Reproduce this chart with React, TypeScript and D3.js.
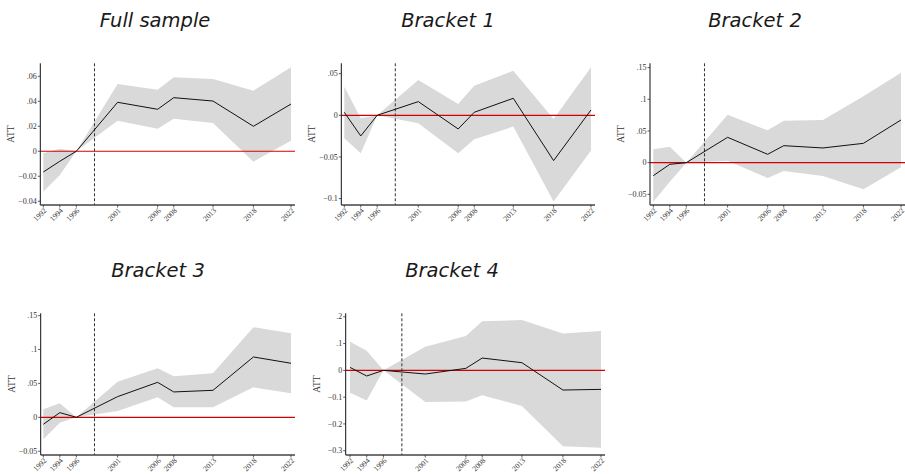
import React from "react";
import * as d3 from "d3";

const yearLabels = ["1992", "1994", "1996", "2001", "2006", "2008", "2013", "2018", "2022"];
const xPositions = [1992, 1994, 1996, 2001, 2005.85, 2007.8, 2012.55, 2017.45, 2022];
const treatmentX = 1998.2;

const fullEst = [-0.0166, -0.008, 0, 0.0392, 0.0336, 0.0429, 0.0402, 0.02, 0.0378];
const fullLo = [-0.0323, -0.019, 0, 0.0245, 0.0181, 0.0261, 0.0226, -0.0083, 0.0085];
const fullHi = [-0.0015, 0.002, 0, 0.0538, 0.0493, 0.0592, 0.0578, 0.0485, 0.0672];

const b1Est = [0.0036, -0.0248, 0, 0.0164, -0.0164, 0.0036, 0.0204, -0.0544, 0.0064];
const b1Lo = [-0.0276, -0.0456, 0, -0.0096, -0.0456, -0.0288, -0.0136, -0.1036, -0.0424];
const b1Hi = [0.0344, -0.0036, 0, 0.0424, 0.0136, 0.0356, 0.0536, -0.0044, 0.0576];

const b2Est = [-0.0205, -0.0026, 0, 0.04, 0.0132, 0.0268, 0.0232, 0.0305, 0.0674];
const b2Lo = [-0.0616, -0.03, 0, 0.003, -0.0242, -0.0132, -0.021, -0.042, -0.0074];
const b2Hi = [0.021, 0.0253, 0, 0.0758, 0.051, 0.0663, 0.0674, 0.105, 0.142];

const b3Est = [-0.0103, 0.0069, 0, 0.0305, 0.0516, 0.0374, 0.0398, 0.089, 0.0797];
const b3Lo = [-0.0325, -0.0079, 0, 0.0093, 0.0295, 0.0147, 0.0147, 0.0442, 0.0354];
const b3Hi = [0.0118, 0.0206, 0, 0.0526, 0.0723, 0.0605, 0.0649, 0.1328, 0.124];

const b4Est = [0.011, -0.021, 0, -0.0137, 0.0075, 0.046, 0.0286, -0.0735, -0.071];
const b4Lo = [-0.0834, -0.113, 0, -0.118, -0.116, -0.0934, -0.133, -0.283, -0.289];
const b4Hi = [0.107, 0.0735, 0, 0.0884, 0.128, 0.183, 0.188, 0.138, 0.147];

const ticksFull = [-0.04, -0.02, 0, 0.02, 0.04, 0.06];
const ticksB1 = [-0.1, -0.05, 0, 0.05];
const ticksB2 = [-0.05, 0, 0.05, 0.1, 0.15];
const ticksB3 = [-0.05, 0, 0.05, 0.1, 0.15];
const ticksB4 = [-0.3, -0.2, -0.1, 0, 0.1, 0.2];

const titles = ["Full sample", "Bracket 1", "Bracket 2", "Bracket 3", "Bracket 4"];

const fmt = (v: number) => {
  if (Math.abs(v) < 1e-12) return "0";
  const s = d3.format("~g")(+v.toFixed(4));
  return s.replace(/^(-?)0\./, "$1.");
};

type PanelProps = {
  title: string;
  titleX: number;
  titleY: number;
  axisX: number;
  x0: number;
  x1: number;
  right: number;
  top: number;
  bottom: number;
  domain: [number, number];
  ticks: number[];
  est: number[];
  lo: number[];
  hi: number[];
};

function Panel(p: PanelProps) {
  const x = d3.scaleLinear().domain([1992, 2022]).range([p.x0, p.x1]);
  const y = d3.scaleLinear().domain(p.domain).range([p.bottom, p.top]);
  const idx = d3.range(xPositions.length);
  const area = d3
    .area<number>()
    .x((i) => x(xPositions[i]))
    .y0((i) => y(p.lo[i]))
    .y1((i) => y(p.hi[i]));
  const line = d3
    .line<number>()
    .x((i) => x(xPositions[i]))
    .y((i) => y(p.est[i]));
  const midY = (p.top + p.bottom) / 2;
  return (
    <g>
      <text
        x={p.titleX}
        y={p.titleY}
        textAnchor="middle"
        fontFamily="'DejaVu Sans', sans-serif"
        fontStyle="oblique"
        fontSize={19.5}
        fill="#1a1a1a"
      >
        {p.title}
      </text>
      <path d={area(idx) || ""} fill="#d9d9d9" stroke="none" />
      <line x1={p.axisX} x2={p.right} y1={y(0)} y2={y(0)} stroke="#d40000" strokeWidth={1.2} />
      <line
        x1={x(treatmentX)}
        x2={x(treatmentX)}
        y1={p.top}
        y2={p.bottom}
        stroke="#333"
        strokeWidth={1}
        strokeDasharray="3,2"
      />
      <path d={line(idx) || ""} fill="none" stroke="#111" strokeWidth={1} />
      <line x1={p.axisX} x2={p.axisX} y1={p.top} y2={p.bottom} stroke="#111" strokeWidth={1} />
      <line x1={p.axisX} x2={p.right} y1={p.bottom} y2={p.bottom} stroke="#444" strokeWidth={1.3} />
      {p.ticks.map((t) => (
        <g key={t}>
          <line x1={p.axisX - 2.5} x2={p.axisX} y1={y(t)} y2={y(t)} stroke="#333" strokeWidth={0.8} />
          <text
            x={p.axisX - 3.5}
            y={y(t)}
            dy="0.33em"
            textAnchor="end"
            fontFamily="'Liberation Serif', 'Times New Roman', serif"
            fontSize={8}
            fill="#333"
          >
            {fmt(t)}
          </text>
        </g>
      ))}
      {xPositions.map((v, i) => (
        <g key={yearLabels[i]}>
          <line x1={x(v)} x2={x(v)} y1={p.bottom} y2={p.bottom + 2.5} stroke="#333" strokeWidth={0.8} />
          <text
            transform={`translate(${x(v) + 1},${p.bottom + 3.5}) rotate(-45)`}
            textAnchor="end"
            dy="0.5em"
            fontFamily="'Liberation Serif', 'Times New Roman', serif"
            fontSize={7.5}
            fill="#333"
          >
            {yearLabels[i]}
          </text>
        </g>
      ))}
      <text
        transform={`translate(${p.axisX - 26},${midY}) rotate(-90)`}
        textAnchor="middle"
        fontFamily="'Liberation Serif', 'Times New Roman', serif"
        fontSize={9.5}
        fill="#333"
      >
        ATT
      </text>
    </g>
  );
}

export default function App() {
  return (
    <svg
      width={905}
      height={474}
      style={{ position: "absolute", left: 0, top: 0, background: "#fff" }}
    >
      <rect width={905} height={474} fill="#fff" />
      <Panel
        title={titles[0]}
        titleX={155}
        titleY={27}
        axisX={40.3}
        x0={43.3}
        x1={291}
        right={295}
        top={63.3}
        bottom={205}
        domain={[-0.043, 0.0704]}
        ticks={ticksFull}
        est={fullEst}
        lo={fullLo}
        hi={fullHi}
      />
      <Panel
        title={titles[1]}
        titleX={448}
        titleY={27}
        axisX={341.3}
        x0={344.3}
        x1={591}
        right={595}
        top={63.3}
        bottom={205}
        domain={[-0.1077, 0.0624]}
        ticks={ticksB1}
        est={b1Est}
        lo={b1Lo}
        hi={b1Hi}
      />
      <Panel
        title={titles[2]}
        titleX={755}
        titleY={27}
        axisX={650}
        x0={653.3}
        x1={901}
        right={905}
        top={63.3}
        bottom={205}
        domain={[-0.0668, 0.1568]}
        ticks={ticksB2}
        est={b2Est}
        lo={b2Lo}
        hi={b2Hi}
      />
      <Panel
        title={titles[3]}
        titleX={158}
        titleY={277}
        axisX={40.7}
        x0={43.3}
        x1={291}
        right={295}
        top={313.3}
        bottom={455}
        domain={[-0.0556, 0.1534]}
        ticks={ticksB3}
        est={b3Est}
        lo={b3Lo}
        hi={b3Hi}
      />
      <Panel
        title={titles[4]}
        titleX={452}
        titleY={277}
        axisX={345.7}
        x0={350}
        x1={601}
        right={605}
        top={313.3}
        bottom={455}
        domain={[-0.316, 0.213]}
        ticks={ticksB4}
        est={b4Est}
        lo={b4Lo}
        hi={b4Hi}
      />
    </svg>
  );
}
